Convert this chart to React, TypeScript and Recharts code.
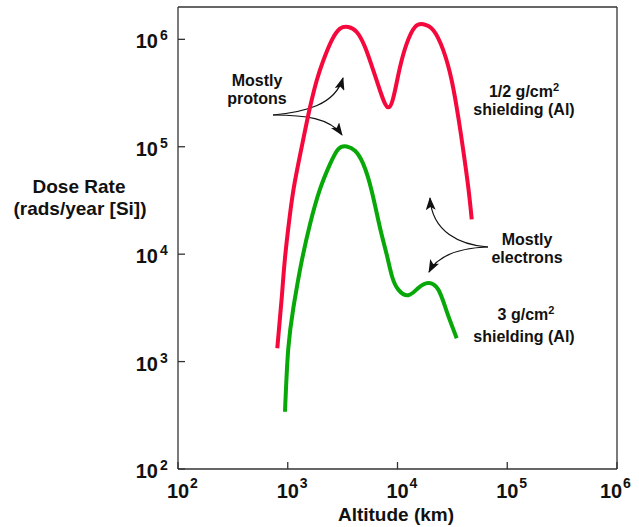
import { Line, LineChart, XAxis, YAxis } from "recharts"

// values (altitude in km, dose in rads/year)
const thinAltitude = [803, 881, 944, 1048, 1164, 1386, 1595, 1836, 2109, 2515, 2993, 3563, 4248, 5057, 6018, 6927, 8246, 9489, 10540, 12130, 14440, 17190, 21200, 26150, 31180, 35810, 39780, 44170, 47450]
const thinDose = [1331, 3905, 9236, 23500, 48100, 118000, 233000, 414000, 636000, 979000, 1259000, 1303000, 1170000, 847000, 513000, 334000, 233000, 334000, 551000, 912000, 1303000, 1381000, 1214000, 789000, 414000, 188000, 91700, 41660, 21100]

const thickAltitude = [944, 1012, 1124, 1207, 1340, 1595, 1967, 2427, 2888, 3444, 4101, 4880, 5821, 6927, 7973, 8911, 10170, 12540, 15470, 19080, 23540, 28070, 34630]
const thickDose = [341, 1331, 3149, 4842, 8603, 18950, 40240, 68900, 95200, 100600, 91700, 68900, 38800, 17610, 9936, 6228, 4678, 4148, 4842, 5386, 4678, 2933, 1651]

const xTicks = [100, 1000, 10000, 100000, 1000000]
const yTicks = [100, 1000, 10000, 100000, 1000000]

const thinData = thinAltitude.map((x, i) => ({ x, y: thinDose[i] }))
const thickData = thickAltitude.map((x, i) => ({ x, y: thickDose[i] }))

const font = "'Liberation Sans', Arial, sans-serif"
const frame = { stroke: "#333", strokeWidth: 1.3 }

function XTick({ x, y, payload }: any) {
  const p = Math.round(Math.log10(payload.value))
  return (
    <g fontFamily={font} fontWeight="bold" fill="#111">
      <text x={x} y={y} textAnchor="middle" fontSize={20}>10</text>
      <text x={x + 12} y={y - 10} fontSize={14}>{p}</text>
    </g>
  )
}

function YTick({ x, y, payload }: any) {
  const p = Math.round(Math.log10(payload.value))
  return (
    <g fontFamily={font} fontWeight="bold" fill="#111">
      <text x={x} y={y + 9} textAnchor="end" fontSize={20}>10</text>
      <text x={x + 2} y={y + 1} fontSize={14}>{p}</text>
    </g>
  )
}

export default function App() {
  const label = { fontFamily: font, fontWeight: "bold" as const, fill: "#111", textAnchor: "middle" as const }
  const arrow = { fill: "none", stroke: "#111", strokeWidth: 1.2, markerEnd: "url(#head)" }
  return (
    <div style={{ position: "absolute", left: 0, top: 0 }}>
      <LineChart width={639} height={527} margin={{ top: 0, right: 0, bottom: 0, left: 0 }}>
        <defs>
          <marker id="head" viewBox="0 0 13 10" refX="12" refY="5" markerWidth="13" markerHeight="10" markerUnits="userSpaceOnUse" orient="auto">
            <path d="M0,0 L13,5 L0,10 L3,5 Z" fill="#111" />
          </marker>
        </defs>
        <XAxis xAxisId="b" dataKey="x" type="number" scale="log" domain={[100, 1000000]} allowDataOverflow
          ticks={xTicks} height={58} tickSize={-7} tickMargin={36} tick={<XTick />} axisLine={frame} tickLine={frame} />
        <XAxis xAxisId="t" orientation="top" type="number" scale="log" domain={[100, 1000000]} allowDataOverflow
          ticks={xTicks} height={7} tickSize={-7} tick={false} axisLine={frame} tickLine={frame} />
        <YAxis yAxisId="l" dataKey="y" type="number" scale="log" domain={[100, 2000000]} allowDataOverflow
          ticks={yTicks} width={178} tickSize={-7} tickMargin={27} tick={<YTick />} axisLine={frame} tickLine={frame} />
        <YAxis yAxisId="r" orientation="right" type="number" scale="log" domain={[100, 2000000]} allowDataOverflow
          ticks={yTicks} width={22} tickSize={-7} tick={false} axisLine={frame} tickLine={frame} />
        <Line xAxisId="b" yAxisId="l" data={thinData} dataKey="y" type="natural" stroke="#f5093c" strokeWidth={4}
          dot={false} activeDot={false} isAnimationActive={false} />
        <Line xAxisId="b" yAxisId="l" data={thickData} dataKey="y" type="natural" stroke="#08a808" strokeWidth={4}
          dot={false} activeDot={false} isAnimationActive={false} />

        <text x={79} y={193} fontSize={19} {...label}>Dose Rate</text>
        <text x={80} y={215} fontSize={19} {...label}>(rads/year [Si])</text>
        <text x={396} y={521} fontSize={19} {...label}>Altitude (km)</text>

        <text x={257} y={86} fontSize={16} {...label}>Mostly</text>
        <text x={257} y={104} fontSize={16} {...label}>protons</text>
        <path d="M273,115 C305,112 335,105 343,78" {...arrow} />
        <path d="M273,115 C305,115 330,118 342,135" {...arrow} />

        <text x={524} y={97} fontSize={16} {...label}>1/2 g/cm<tspan fontSize={11} dy={-6}>2</tspan></text>
        <text x={524} y={115} fontSize={16} {...label}>shielding (Al)</text>

        <text x={527} y={245} fontSize={16} {...label}>Mostly</text>
        <text x={527} y={263} fontSize={16} {...label}>electrons</text>
        <path d="M488,247 C460,245 432,232 430,198" {...arrow} />
        <path d="M488,247 C460,248 438,255 429,272" {...arrow} />

        <text x={526} y={320} fontSize={16} {...label}>3 g/cm<tspan fontSize={11} dy={-6}>2</tspan></text>
        <text x={524} y={342} fontSize={16} {...label}>shielding (Al)</text>
      </LineChart>
    </div>
  )
}
